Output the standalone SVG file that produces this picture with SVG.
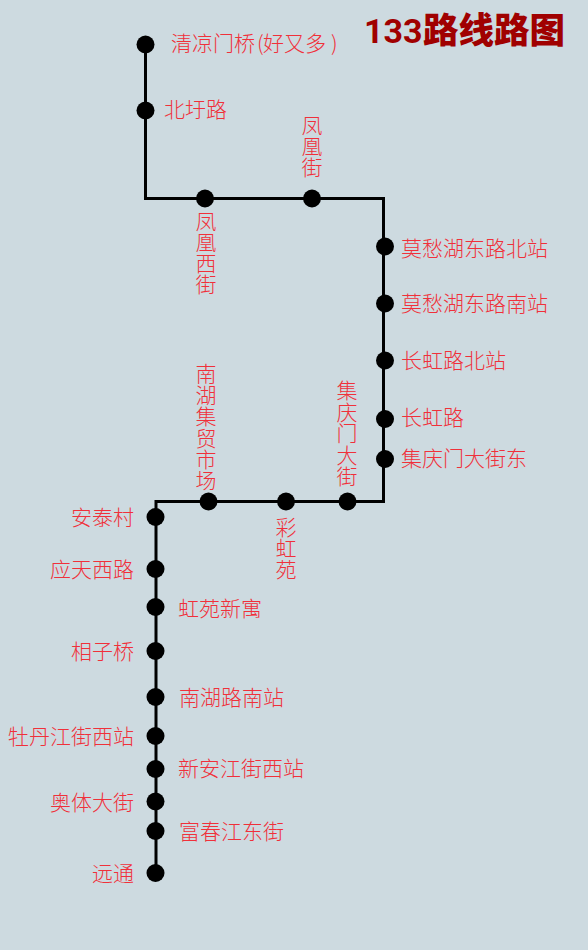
<svg xmlns="http://www.w3.org/2000/svg" width="588" height="950" viewBox="0 0 588 950">
<style>
.l{font-family:"Noto Sans CJK SC","Noto Sans CJK JP",sans-serif;font-size:21px;fill:#f0303a;font-weight:300}
.e{text-anchor:end}
.v{writing-mode:vertical-rl;text-orientation:upright}
.n{fill:#000}
</style>
<rect width="588" height="950" fill="#cddae0"/>
<text x="364" y="43" font-family="Roboto,'Noto Sans CJK SC',sans-serif" font-size="34" font-weight="700" fill="#a00000">133<tspan x="423" font-family="'Noto Sans CJK SC',sans-serif" font-weight="900" font-size="35.500">路线路图</tspan></text>
<g id="connectors"><polyline points="145.5,44 145.5,198.5 383.5,198.5 383.5,501.5 156,501.5 156,873" fill="none" stroke="#000" stroke-width="3"/></g>
<g id="n1"><circle class="n" cx="145.500" cy="44.500" r="9"/><text class="l" x="171" y="51">清凉门桥<tspan x="257">(</tspan><tspan x="263">好又多</tspan><tspan x="331">)</tspan></text></g>
<g id="n2"><circle class="n" cx="145.500" cy="110.500" r="9"/><text class="l" x="164" y="117">北圩路</text></g>
<g id="n3"><circle class="n" cx="205" cy="198.500" r="9"/><text class="l v" x="206" y="211">凤凰西街</text></g>
<g id="n4"><circle class="n" cx="312" cy="198.500" r="9"/><text class="l v" x="312" y="115">凤凰街</text></g>
<g id="n5"><circle class="n" cx="385" cy="246.500" r="9"/><text class="l" x="401" y="256">莫愁湖东路北站</text></g>
<g id="n6"><circle class="n" cx="385" cy="303.500" r="9"/><text class="l" x="401" y="311">莫愁湖东路南站</text></g>
<g id="n7"><circle class="n" cx="385" cy="360.500" r="9"/><text class="l" x="401" y="368">长虹路北站</text></g>
<g id="n8"><circle class="n" cx="385" cy="419" r="9"/><text class="l" x="401" y="425">长虹路</text></g>
<g id="n9"><circle class="n" cx="385" cy="459" r="9"/><text class="l" x="401" y="466">集庆门大街东</text></g>
<g id="n10"><circle class="n" cx="347.500" cy="501.500" r="9"/><text class="l v" x="347" y="380" letter-spacing="0.500">集庆门大街</text></g>
<g id="n11"><circle class="n" cx="286" cy="501.500" r="9"/><text class="l v" x="286" y="517">彩虹苑</text></g>
<g id="n12"><circle class="n" cx="208.500" cy="501.500" r="9"/><text class="l v" x="206" y="363" letter-spacing="0.400">南湖集贸市场</text></g>
<g id="n13"><circle class="n" cx="155.500" cy="517" r="9"/><text class="l e" x="134" y="525">安泰村</text></g>
<g id="n14"><circle class="n" cx="155.500" cy="569" r="9"/><text class="l e" x="134" y="577">应天西路</text></g>
<g id="n15"><circle class="n" cx="155.500" cy="607" r="9"/><text class="l" x="178" y="616">虹苑新寓</text></g>
<g id="n16"><circle class="n" cx="155.500" cy="651" r="9"/><text class="l e" x="134" y="659">相子桥</text></g>
<g id="n17"><circle class="n" cx="155.500" cy="697" r="9"/><text class="l" x="179" y="705">南湖路南站</text></g>
<g id="n18"><circle class="n" cx="155.500" cy="736" r="9"/><text class="l e" x="134" y="744">牡丹江街西站</text></g>
<g id="n19"><circle class="n" cx="155.500" cy="769" r="9"/><text class="l" x="178" y="776">新安江街西站</text></g>
<g id="n20"><circle class="n" cx="155.500" cy="801.500" r="9"/><text class="l e" x="134" y="810">奥体大街</text></g>
<g id="n21"><circle class="n" cx="155.500" cy="831" r="9"/><text class="l" x="179" y="839">富春江东街</text></g>
<g id="n22"><circle class="n" cx="155.500" cy="873" r="9"/><text class="l e" x="134" y="881">远通</text></g>
</svg>
